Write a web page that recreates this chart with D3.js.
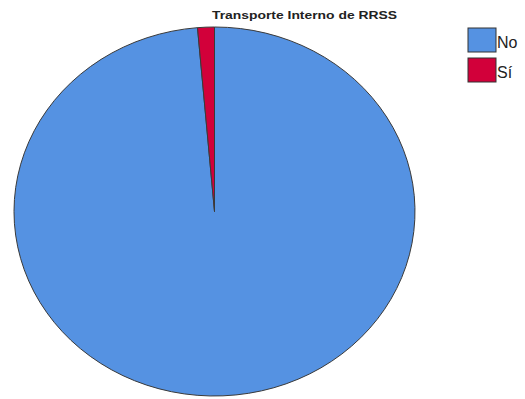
<!DOCTYPE html>
<html>
<head>
<meta charset="utf-8">
<script src="https://cdn.jsdelivr.net/npm/d3@7/dist/d3.min.js"></script>
<style>
  html, body { margin: 0; padding: 0; background: #fff; }
  svg { display: block; }
</style>
</head>
<body>
<svg id="chart" width="525" height="399"></svg>
<script>
// Respuestas: ¿Transporte interno de RRSS?
const categories = ["No", "Sí"];
const counts = [73, 1];
const colors = ["#5592E2", "#D2003A"];
const title = "Transporte Interno de RRSS";

const svg = d3.select("#chart");

// Pie drawn on a unit radius then stretched to an ellipse
const cx = 214.5, cy = 211.5, rx = 200.5, ry = 184.5;
const R = 100;

const pie = d3.pie().sort(null).value(d => d.value).startAngle(0).endAngle(2 * Math.PI);
const arc = d3.arc().innerRadius(0).outerRadius(R);

const data = categories.map((c, i) => ({ name: c, value: counts[i] }));

const g = svg.append("g")
  .attr("transform", `translate(${cx},${cy}) scale(${rx / R},${ry / R})`);

g.selectAll("path")
  .data(pie(data))
  .join("path")
  .attr("d", arc)
  .attr("fill", (d, i) => colors[i])
  .attr("stroke", "#3a3a3a")
  .attr("stroke-width", 1)
  .attr("vector-effect", "non-scaling-stroke");

// Title
svg.append("text")
  .attr("x", 212)
  .attr("y", 19)
  .attr("font-family", "Liberation Sans, Arial, sans-serif")
  .attr("font-weight", "bold")
  .attr("font-size", 11)
  .attr("fill", "#222")
  .attr("textLength", 185)
  .attr("lengthAdjust", "spacingAndGlyphs")
  .text(title);

// Legend
const legend = svg.append("g");
const item = legend.selectAll("g")
  .data(categories)
  .join("g")
  .attr("transform", (d, i) => `translate(468,${28 + i * 30})`);

item.append("rect")
  .attr("width", 28)
  .attr("height", 24)
  .attr("fill", (d, i) => colors[i])
  .attr("stroke", "#333")
  .attr("stroke-width", 1);

item.append("text")
  .attr("x", 29)
  .attr("y", 20)
  .attr("font-family", "Liberation Sans, Arial, sans-serif")
  .attr("font-size", 16)
  .attr("fill", "#222")
  .text(d => d);
</script>
</body>
</html>
